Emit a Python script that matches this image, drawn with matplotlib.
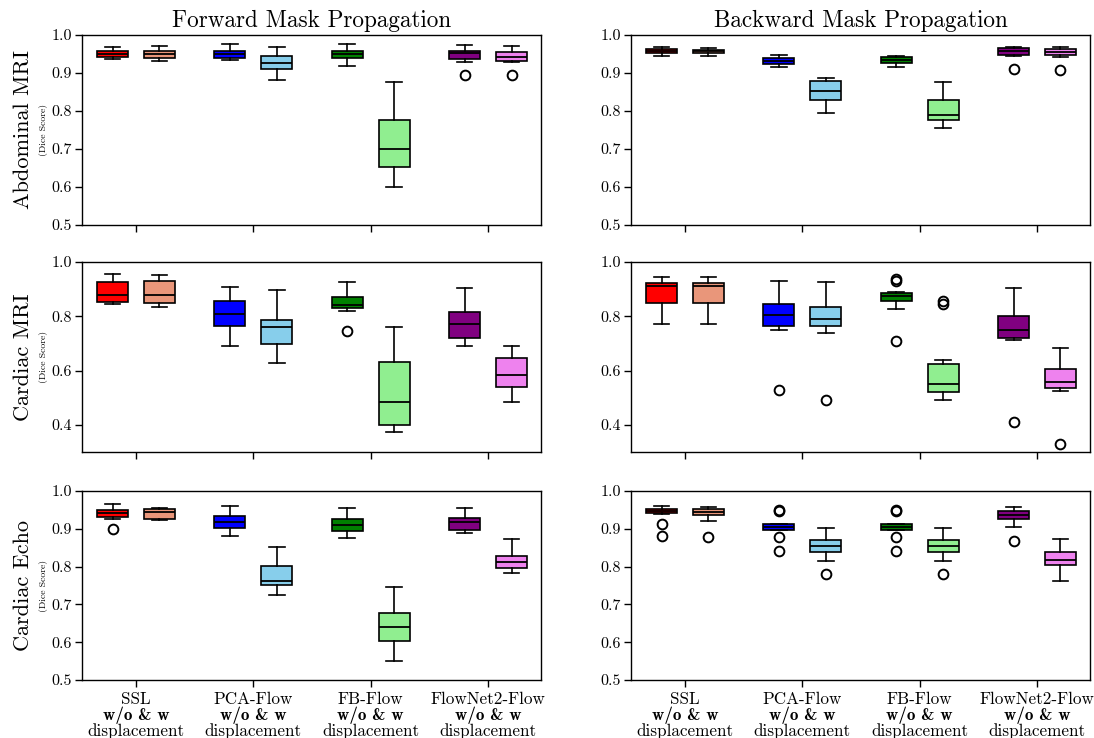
import matplotlib
matplotlib.use("Agg")
import matplotlib.pyplot as plt

plt.rcParams['font.family'] = ['cmr10', 'DejaVu Serif']
plt.rcParams['axes.unicode_minus'] = False
plt.rcParams['axes.formatter.use_mathtext'] = True

methods = ["SSL", "PCA-Flow", "FB-Flow", "FlowNet2-Flow"]
label_mid = "w/o & w"
label_bottom = "displacement"
col_titles = ["Forward Mask Propagation", "Backward Mask Propagation"]
row_titles = ["Abdominal MRI", "Cardiac MRI", "Cardiac Echo"]
box_colors = ["red", "darksalmon", "blue", "skyblue", "green", "lightgreen", "purple", "violet"]

# five-number summaries per box: [whisker low, Q1, median, Q3, whisker high]
# order: SSL w/o, SSL w, PCA w/o, PCA w, FB w/o, FB w, FlowNet2 w/o, FlowNet2 w
abd_fwd = [[0.937, 0.941, 0.949, 0.957, 0.968],
           [0.932, 0.940, 0.950, 0.959, 0.971],
           [0.933, 0.940, 0.949, 0.959, 0.975],
           [0.881, 0.910, 0.926, 0.946, 0.969],
           [0.918, 0.939, 0.949, 0.959, 0.977],
           [0.599, 0.652, 0.701, 0.776, 0.875],
           [0.928, 0.937, 0.953, 0.959, 0.974],
           [0.930, 0.932, 0.941, 0.956, 0.971]]
abd_fwd_fliers = [[], [], [], [], [], [], [0.895], [0.894]]

abd_bwd = [[0.946, 0.953, 0.957, 0.963, 0.968],
           [0.946, 0.952, 0.957, 0.961, 0.966],
           [0.915, 0.924, 0.932, 0.940, 0.947],
           [0.796, 0.828, 0.853, 0.880, 0.887],
           [0.915, 0.925, 0.934, 0.941, 0.944],
           [0.754, 0.776, 0.790, 0.829, 0.875],
           [0.945, 0.948, 0.959, 0.967, 0.968],
           [0.941, 0.947, 0.955, 0.964, 0.968]]
abd_bwd_fliers = [[], [], [], [], [], [], [0.911], [0.907]]

car_fwd = [[0.844, 0.852, 0.877, 0.926, 0.954],
           [0.836, 0.849, 0.877, 0.930, 0.952],
           [0.692, 0.764, 0.808, 0.857, 0.909],
           [0.628, 0.697, 0.762, 0.788, 0.898],
           [0.820, 0.831, 0.842, 0.871, 0.925],
           [0.375, 0.401, 0.486, 0.631, 0.761],
           [0.689, 0.719, 0.771, 0.815, 0.906],
           [0.483, 0.540, 0.584, 0.646, 0.689]]
car_fwd_fliers = [[], [], [], [], [0.745], [], [], []]

car_bwd = [[0.771, 0.849, 0.913, 0.921, 0.946],
           [0.771, 0.849, 0.913, 0.922, 0.943],
           [0.751, 0.764, 0.804, 0.844, 0.930],
           [0.739, 0.764, 0.791, 0.834, 0.926],
           [0.826, 0.857, 0.873, 0.884, 0.890],
           [0.492, 0.520, 0.551, 0.623, 0.639],
           [0.714, 0.721, 0.749, 0.801, 0.904],
           [0.524, 0.536, 0.558, 0.606, 0.682]]
car_bwd_fliers = [[], [], [0.529], [0.492], [0.937, 0.929, 0.708], [0.855, 0.846], [0.412], [0.328]]

echo_fwd = [[0.927, 0.931, 0.941, 0.949, 0.965],
            [0.922, 0.925, 0.945, 0.953, 0.956],
            [0.882, 0.903, 0.917, 0.933, 0.959],
            [0.726, 0.750, 0.763, 0.801, 0.852],
            [0.875, 0.894, 0.911, 0.927, 0.954],
            [0.550, 0.604, 0.640, 0.678, 0.747],
            [0.890, 0.898, 0.917, 0.928, 0.956],
            [0.783, 0.797, 0.813, 0.829, 0.872]]
echo_fwd_fliers = [[0.899], [], [], [], [], [], [], []]

echo_bwd = [[0.940, 0.941, 0.947, 0.952, 0.959],
            [0.920, 0.936, 0.945, 0.953, 0.958],
            [0.898, 0.898, 0.905, 0.912, 0.912],
            [0.816, 0.838, 0.854, 0.871, 0.903],
            [0.898, 0.898, 0.905, 0.912, 0.912],
            [0.816, 0.838, 0.854, 0.871, 0.903],
            [0.905, 0.927, 0.936, 0.946, 0.958],
            [0.762, 0.805, 0.817, 0.839, 0.874]]
echo_bwd_fliers = [[0.913, 0.880], [0.879], [0.950, 0.947, 0.877, 0.841], [0.781],
                   [0.950, 0.947, 0.877, 0.841], [0.781], [0.867], []]

panels = [[(abd_fwd, abd_fwd_fliers), (abd_bwd, abd_bwd_fliers)],
          [(car_fwd, car_fwd_fliers), (car_bwd, car_bwd_fliers)],
          [(echo_fwd, echo_fwd_fliers), (echo_bwd, echo_bwd_fliers)]]
ylims = [(0.5, 1.0), (0.3, 1.0), (0.5, 1.0)]
yticks = [[0.5, 0.6, 0.7, 0.8, 0.9, 1.0], [0.4, 0.6, 0.8, 1.0], [0.5, 0.6, 0.7, 0.8, 0.9, 1.0]]

fig = plt.figure(figsize=(10.94, 7.38), dpi=100)
col_left = [0.075, 0.5768]
col_width = [0.4196, 0.4196]
row_bottom = [0.6951, 0.3875, 0.0786]
row_height = [0.2575, 0.2575, 0.2561]

group_centers = [0.0, 2.5, 5.0, 7.5]
positions = []
for c in group_centers:
    positions += [c - 0.5, c + 0.5]

for r in range(3):
    for cidx in range(2):
        ax = fig.add_axes([col_left[cidx], row_bottom[r], col_width[cidx], row_height[r]])
        summ, fl = panels[r][cidx]
        stats = []
        for s, f in zip(summ, fl):
            stats.append(dict(whislo=s[0], q1=s[1], med=s[2], q3=s[3], whishi=s[4], fliers=f))
        bp = ax.bxp(stats, positions=positions, widths=0.66, patch_artist=True,
                    boxprops=dict(edgecolor='black', linewidth=1.2),
                    medianprops=dict(color='black', linewidth=1.3),
                    whiskerprops=dict(color='black', linewidth=1.2),
                    capprops=dict(color='black', linewidth=1.2),
                    flierprops=dict(marker='o', markerfacecolor='none', markeredgecolor='black',
                                    markersize=7, markeredgewidth=1.4))
        for patch, col in zip(bp['boxes'], box_colors):
            patch.set_facecolor(col)
        ax.set_xlim(-1.15, 8.63)
        ax.set_ylim(*ylims[r])
        ax.set_yticks(yticks[r])
        ax.set_yticklabels(["%.1f" % v for v in yticks[r]])
        ax.set_xticks(group_centers)
        ax.set_xticklabels([])
        if r == 2:
            for xc, m in zip(group_centers, methods):
                for txt, off, fam in [(m, -17.3, 'cmr10'), (label_mid, -28.8, 'cmb10'),
                                      (label_bottom, -40.3, 'cmr10')]:
                    ax.annotate(txt, xy=(xc, 0), xycoords=('data', 'axes fraction'),
                                xytext=(0, off), textcoords='offset points',
                                ha='center', va='baseline', fontsize=12.3, family=fam)
        ax.tick_params(axis='y', labelsize=11.5, length=5, width=1, pad=2.5)
        ax.tick_params(axis='x', length=5, width=1)
        for sp in ax.spines.values():
            sp.set_linewidth(1.0)
        if r == 0:
            ax.set_title(col_titles[cidx], fontsize=16.7, pad=6)
        if cidx == 0:
            ax.text(-0.129, 0.5, row_titles[r], rotation=90, transform=ax.transAxes,
                    ha='center', va='center', fontsize=16)
            ax.text(-0.085, 0.5, "(Dice Score)", rotation=90, transform=ax.transAxes,
                    ha='center', va='center', fontsize=7)

fig.savefig("out.png", dpi=100)
